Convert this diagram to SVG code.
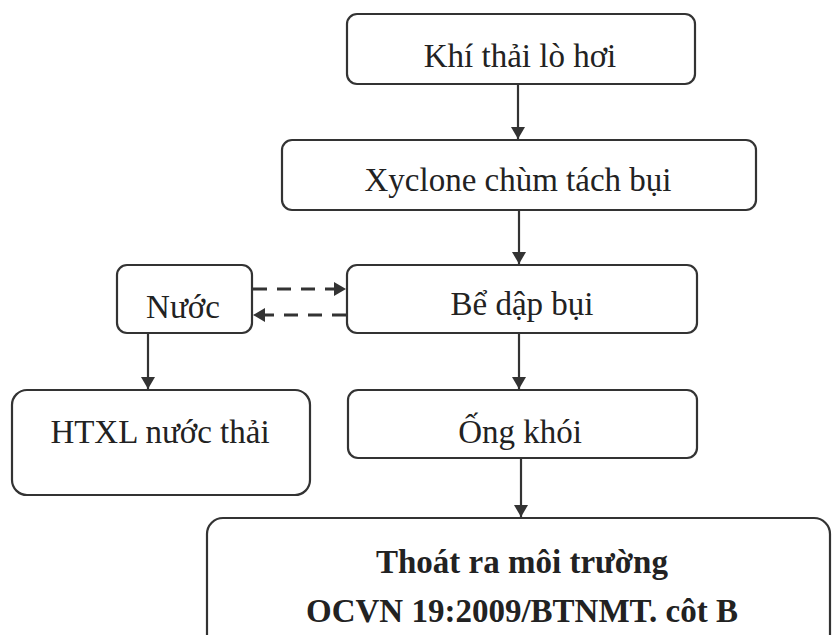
<svg xmlns="http://www.w3.org/2000/svg" width="833" height="635" viewBox="0 0 833 635">
  <style>
    .box { fill: #ffffff; stroke: #333333; stroke-width: 2.2; }
    .lbl { font-family: "Liberation Serif", "Times New Roman", serif; font-size: 33px; fill: #222222; text-anchor: middle; }
    .bold { font-weight: bold; }
    .flow { stroke: #333333; stroke-width: 2.2; fill: none; }
    .dash { stroke: #333333; stroke-width: 3; fill: none; stroke-dasharray: 14 10; }
  </style>
  <defs>
    <marker id="arrow" viewBox="0 0 12 14" refX="12" refY="7" markerWidth="12" markerHeight="14" markerUnits="userSpaceOnUse" orient="auto">
      <path d="M0,0 L12,7 L0,14 Z" fill="#333333"/>
    </marker>
  </defs>
  <rect width="833" height="635" fill="#ffffff"/>

  <g id="connectors">
    <line class="flow" x1="518" y1="85" x2="518" y2="139" marker-end="url(#arrow)"/>
    <line class="flow" x1="519" y1="211" x2="519" y2="264" marker-end="url(#arrow)"/>
    <line class="flow" x1="519" y1="334" x2="519" y2="389" marker-end="url(#arrow)"/>
    <line class="flow" x1="521" y1="459" x2="521" y2="517" marker-end="url(#arrow)"/>
    <line class="flow" x1="148" y1="334" x2="148" y2="389" marker-end="url(#arrow)"/>
    <line class="dash" x1="253" y1="289" x2="346" y2="289" marker-end="url(#arrow)"/>
    <line class="dash" x1="346" y1="315" x2="253" y2="315" marker-end="url(#arrow)"/>
  </g>

  <g id="khi-thai">
    <rect class="box" x="347" y="14" width="348" height="70" rx="10"/>
    <text class="lbl" x="520" y="67">Khí thải lò hơi</text>
  </g>

  <g id="xyclone">
    <rect class="box" x="282" y="140" width="474" height="70" rx="10"/>
    <text class="lbl" x="518" y="191">Xyclone chùm tách bụi</text>
  </g>

  <g id="be-dap-bui">
    <rect class="box" x="347" y="265" width="350" height="68" rx="10"/>
    <text class="lbl" x="522" y="315">Bể dập bụi</text>
  </g>

  <g id="nuoc">
    <rect class="box" x="117" y="265" width="135" height="68" rx="10"/>
    <text class="lbl" x="183" y="318">Nước</text>
  </g>

  <g id="htxl">
    <rect class="box" x="12" y="390" width="298" height="105" rx="15"/>
    <text class="lbl" x="160" y="443">HTXL nước thải</text>
  </g>

  <g id="ong-khoi">
    <rect class="box" x="348" y="390" width="349" height="68" rx="10"/>
    <text class="lbl" x="520" y="443">Ống khói</text>
  </g>

  <g id="thoat-ra">
    <rect class="box" x="207" y="518" width="623" height="140" rx="16"/>
    <text class="lbl bold" x="522" y="573">Thoát ra môi trường</text>
    <text class="lbl bold" x="522" y="622">OCVN 19:2009/BTNMT. côt B</text>
  </g>
</svg>
